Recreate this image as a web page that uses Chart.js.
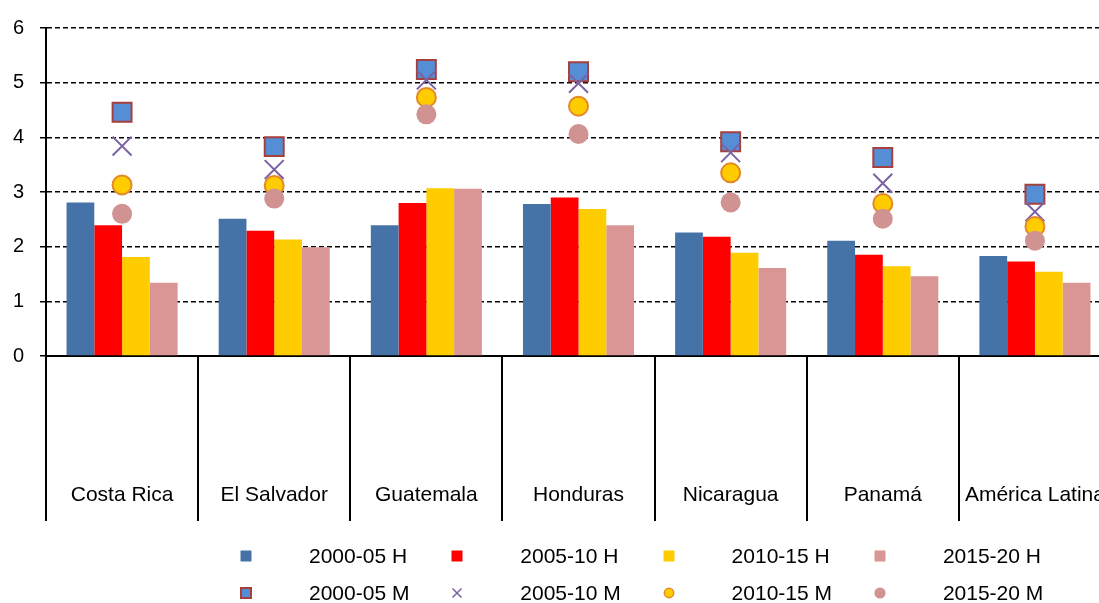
<!DOCTYPE html>
<html>
<head>
<meta charset="utf-8">
<script src="https://cdn.jsdelivr.net/npm/chart.js@4/dist/chart.umd.min.js"></script>
<style>
  html, body { margin: 0; padding: 0; background: #fff; overflow: hidden; }
  #wrap { position: relative; width: 1099px; height: 603px; overflow: hidden; }
  #chart { position: absolute; left: 0; top: 0; }
  #legend { position: absolute; left: 0; top: 0; width: 1099px; height: 603px;
    font-family: 'Liberation Sans', Arial, sans-serif; font-size: 21px; color: #000; }
  .mk { position: absolute; width: 24px; height: 24px; }
  .lbl { position: absolute; line-height: 24px; white-space: nowrap; }
</style>
</head>
<body>
<div id="wrap">
  <canvas id="chart" width="1112" height="540" style="width:1112px;height:540px"></canvas>
  <div id="legend"></div>
</div>
<script>
// categorías y valores
const categories = ['Costa Rica', 'El Salvador', 'Guatemala', 'Honduras', 'Nicaragua', 'Panamá', 'América Latina'];

// hombres (barras)
const h2000 = [2.81, 2.51, 2.39, 2.78, 2.26, 2.11, 1.83];
const h2005 = [2.39, 2.29, 2.80, 2.90, 2.18, 1.85, 1.73];
const h2010 = [1.81, 2.13, 3.07, 2.69, 1.89, 1.64, 1.54];
const h2015 = [1.34, 1.99, 3.06, 2.39, 1.61, 1.46, 1.34];

// mujeres (marcadores)
const m2000 = [4.46, 3.83, 5.24, 5.20, 3.92, 3.63, 2.96];
const m2005 = [3.84, 3.41, 5.05, 4.99, 3.72, 3.16, 2.64];
const m2010 = [3.13, 3.12, 4.73, 4.57, 3.35, 2.79, 2.37];
const m2015 = [2.60, 2.88, 4.42, 4.06, 2.81, 2.51, 2.11];

const seriesLabels = ['2000-05 H', '2005-10 H', '2010-15 H', '2015-20 H',
                      '2000-05 M', '2005-10 M', '2010-15 M', '2015-20 M'];
const yTicks = [0, 1, 2, 3, 4, 5, 6];

const FONT = "'Liberation Sans', Arial, sans-serif";

function barSet(label, data, color) {
  return { type: 'bar', label, data, backgroundColor: color, borderWidth: 0,
           categoryPercentage: 0.73, barPercentage: 1.0, order: 10 };
}
function pointSet(label, data, style, radius, bg, border, bw, order) {
  return { type: 'line', label, data, showLine: false, pointStyle: style,
           pointRadius: radius, pointHoverRadius: radius,
           pointBackgroundColor: bg, pointBorderColor: border, pointBorderWidth: bw,
           backgroundColor: bg, borderColor: border, order };
}

const datasets = [
  barSet(seriesLabels[0], h2000, '#4673A7'),
  barSet(seriesLabels[1], h2005, '#FF0000'),
  barSet(seriesLabels[2], h2010, '#FFCC00'),
  barSet(seriesLabels[3], h2015, '#D99694'),
  pointSet(seriesLabels[4], m2000, 'rect', 13.4, '#558ED5', '#A5403E', 2, 4),
  pointSet(seriesLabels[5], m2005, 'crossRot', 13.4, '#7B62A3', '#7B62A3', 2, 3),
  pointSet(seriesLabels[6], m2010, 'circle', 9.5, '#FFCC00', '#E3892B', 2, 2),
  pointSet(seriesLabels[7], m2015, 'circle', 10, '#D09392', '#D09392', 0, 1)
];

new Chart(document.getElementById('chart'), {
  type: 'bar',
  data: { labels: categories, datasets },
  options: {
    responsive: false,
    animation: false,
    layout: { autoPadding: false, padding: { top: 24, right: 1, bottom: 19, left: 0 } },
    plugins: { legend: { display: false }, tooltip: { enabled: false } },
    scales: {
      x: {
        grid: { offset: true, drawOnChartArea: false, drawTicks: true, tickLength: 165,
                color: '#000', lineWidth: 2 },
        border: { color: '#000', width: 2 },
        ticks: { color: '#000', font: { family: FONT, size: 21 }, padding: -38,
                 maxRotation: 0, autoSkip: false },
        afterFit: s => { s.height = 165; s.paddingLeft = 0; s.paddingRight = 0; }
      },
      y: {
        min: yTicks[0], max: yTicks[yTicks.length - 1],
        afterBuildTicks: s => { s.ticks = yTicks.map(v => ({ value: v })); },
        ticks: { color: '#000', font: { family: FONT, size: 20 }, padding: 16 },
        grid: { color: '#000', lineWidth: 1.5, tickLength: 6, tickWidth: 1.5,
                tickColor: '#000', tickBorderDash: [] },
        border: { color: '#000', width: 2, dash: [5, 3] },
        afterFit: s => { s.width = 46; }
      }
    }
  }
});

// leyenda en HTML: 4 columnas, 2 filas
const legendIcons = [
  '<rect x="6.5" y="6.5" width="11" height="11" fill="#4673A7"/>',
  '<rect x="6.5" y="6.5" width="11" height="11" fill="#FF0000"/>',
  '<rect x="6.5" y="6.5" width="11" height="11" fill="#FFCC00"/>',
  '<rect x="6.5" y="6.5" width="11" height="11" fill="#D99694"/>',
  '<rect x="7" y="7" width="10" height="10" fill="#558ED5" stroke="#A5403E" stroke-width="2"/>',
  '<path d="M7.5 7.5 L16.5 16.5 M16.5 7.5 L7.5 16.5" stroke="#7B62A3" stroke-width="1.5"/>',
  '<circle cx="12" cy="12" r="4.7" fill="#FFCC00" stroke="#E3892B" stroke-width="1.5"/>',
  '<circle cx="12" cy="12" r="5.6" fill="#D09392"/>'
];
const legend = document.getElementById('legend');
seriesLabels.forEach((txt, i) => {
  const col = i % 4, row = Math.floor(i / 4);
  const cx = 246 + col * 211.3, cy = 556 + row * 37;
  const mk = document.createElement('div');
  mk.className = 'mk';
  mk.style.left = (cx - 12) + 'px';
  mk.style.top = (cy - 12) + 'px';
  mk.innerHTML = '<svg width="24" height="24" xmlns="http://www.w3.org/2000/svg">' + legendIcons[i] + '</svg>';
  legend.appendChild(mk);
  const lb = document.createElement('div');
  lb.className = 'lbl';
  lb.style.left = (cx + 63) + 'px';
  lb.style.top = (cy - 12) + 'px';
  lb.textContent = txt;
  legend.appendChild(lb);
});
</script>
</body>
</html>
